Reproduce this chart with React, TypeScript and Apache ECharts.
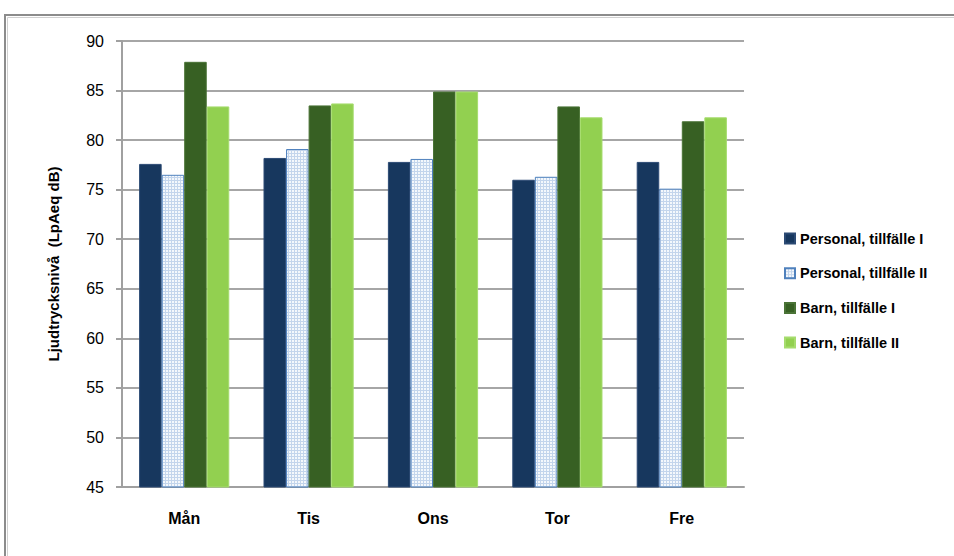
import React, { useEffect, useRef } from "react";
import * as echarts from "echarts";

const categories = ["Mån", "Tis", "Ons", "Tor", "Fre"];
const seriesNames = ["Personal, tillfälle I", "Personal, tillfälle II", "Barn, tillfälle I", "Barn, tillfälle II"];
const personal1 = [77.6, 78.2, 77.8, 76.0, 77.8];
const personal2 = [76.5, 79.1, 78.1, 76.3, 75.1];
const barn1 = [87.9, 83.5, 84.9, 83.4, 81.9];
const barn2 = [83.4, 83.7, 84.9, 82.3, 82.3];
const yMin = 45;
const yMax = 90;
const yStep = 5;

const FONT = "'Liberation Sans', Arial, sans-serif";

function makePattern(): HTMLCanvasElement {
  const c = document.createElement("canvas");
  c.width = 3;
  c.height = 3;
  const ctx = c.getContext("2d")!;
  ctx.fillStyle = "#f4f8fc";
  ctx.fillRect(0, 0, 3, 3);
  ctx.fillStyle = "#c3d5ec";
  ctx.fillRect(0, 0, 3, 1);
  ctx.fillRect(0, 0, 1, 3);
  return c;
}

export default function App() {
  const ref = useRef<HTMLDivElement>(null);
  useEffect(() => {
    if (!ref.current) return;
    const chart = echarts.init(ref.current, undefined, { renderer: "svg" });
    const pattern = { image: makePattern(), repeat: "repeat" as const };
    const values = [personal1, personal2, barn1, barn2];
    const fills: any[] = ["#17375E", pattern, "#376023", "#92D050"];
    const borders = ["#2c4a74", "#4F81BD", "#4a7336", "#a6dc6e"];
    chart.setOption({
      animation: false,
      backgroundColor: "#ffffff",
      textStyle: { fontFamily: FONT },
      graphic: [
        {
          type: "rect",
          shape: { x: 5, y: 15, width: 1000, height: 600 },
          style: { fill: "none", stroke: "#8c8c8c", lineWidth: 2 },
          silent: true,
        },
        {
          type: "rect",
          shape: { x: 7.5, y: 17.5, width: 1000, height: 600 },
          style: { fill: "none", stroke: "#d0d0d0", lineWidth: 1 },
          silent: true,
        },
      ],
      grid: { left: 122, right: 210, top: 41, bottom: 69, containLabel: false },
      legend: {
        orient: "vertical",
        left: 779,
        top: 226,
        itemWidth: 10,
        itemHeight: 10,
        itemGap: 19.7,
        icon: "rect",
        data: seriesNames,
        textStyle: { fontFamily: FONT, fontWeight: "bold", fontSize: 14.5, color: "#000" },
      },
      xAxis: {
        type: "category",
        data: categories,
        axisLine: { lineStyle: { color: "#a0a0a0", width: 2 } },
        axisTick: { show: false },
        axisLabel: { margin: 23, fontFamily: FONT, fontWeight: "bold", fontSize: 16, color: "#000" },
      },
      yAxis: {
        type: "value",
        min: yMin,
        max: yMax,
        interval: yStep,
        name: "Ljudtrycksnivå  (LpAeq dB)",
        nameLocation: "middle",
        nameRotate: 90,
        nameGap: 61,
        nameTextStyle: { fontFamily: FONT, fontWeight: "bold", fontSize: 15, color: "#000" },
        axisLine: { show: true, lineStyle: { color: "#a0a0a0", width: 2 } },
        axisTick: { show: true, length: 6, lineStyle: { color: "#a0a0a0", width: 2 } },
        axisLabel: { margin: 18, fontFamily: FONT, fontSize: 16, color: "#000" },
        splitLine: { lineStyle: { color: "#a6a6a6", width: 2 } },
      },
      series: values.map((v, i) => ({
        name: seriesNames[i],
        type: "bar",
        data: v,
        barGap: "0%",
        barCategoryGap: "27.5%",
        itemStyle: { color: fills[i], borderColor: borders[i], borderWidth: 1 },
      })),
    });
    return () => chart.dispose();
  }, []);
  return (
    <div
      ref={ref}
      style={{ position: "fixed", left: 0, top: 0, width: 954, height: 556 }}
    />
  );
}
